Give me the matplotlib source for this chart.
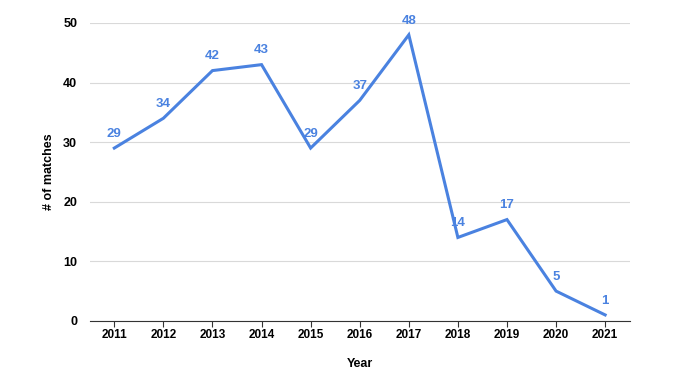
import matplotlib.pyplot as plt

years = ["2011", "2012", "2013", "2014", "2015", "2016", "2017", "2018", "2019", "2020", "2021"]
matches = [29, 34, 42, 43, 29, 37, 48, 14, 17, 5, 1]

plt.rcParams['font.family'] = ['Liberation Sans', 'DejaVu Sans']

blue = '#4a82e0'
fig = plt.figure(figsize=(6.8, 3.82), dpi=100)
ax = fig.add_axes([0.132, 0.16, 0.794, 0.78])

x = list(range(len(years)))
ax.plot(x, matches, color=blue, linewidth=2.2, solid_joinstyle='miter')
for xi, v in zip(x, matches):
    ax.annotate(str(v), (xi, v), xytext=(0, 6), textcoords='offset points',
                ha='center', va='bottom', color=blue, fontsize=9.5, fontweight='bold')

ax.set_xlim(-0.5, len(years) - 0.5)
ax.set_ylim(0, 50)
ax.set_yticks([0, 10, 20, 30, 40, 50])
ax.set_xticks(x)
ax.set_xticklabels(years)
ax.grid(axis='y', color='#d9d9d9', linewidth=0.8)
ax.set_axisbelow(True)
for s in ['top', 'right', 'left']:
    ax.spines[s].set_visible(False)
ax.spines['bottom'].set_color('#333333')
ax.spines['bottom'].set_linewidth(0.8)
ax.tick_params(axis='y', length=0, pad=9, labelsize=9)
ax.tick_params(axis='x', length=4, color='#333333', width=0.8, labelsize=8.5, pad=2)
for lbl in ax.get_xticklabels() + ax.get_yticklabels():
    lbl.set_fontweight('bold')
ax.set_xlabel('Year', fontsize=9, fontweight='bold', labelpad=12)
ax.set_ylabel('# of matches', fontsize=9, fontweight='bold', labelpad=6)

fig.savefig('out.png', dpi=100)
